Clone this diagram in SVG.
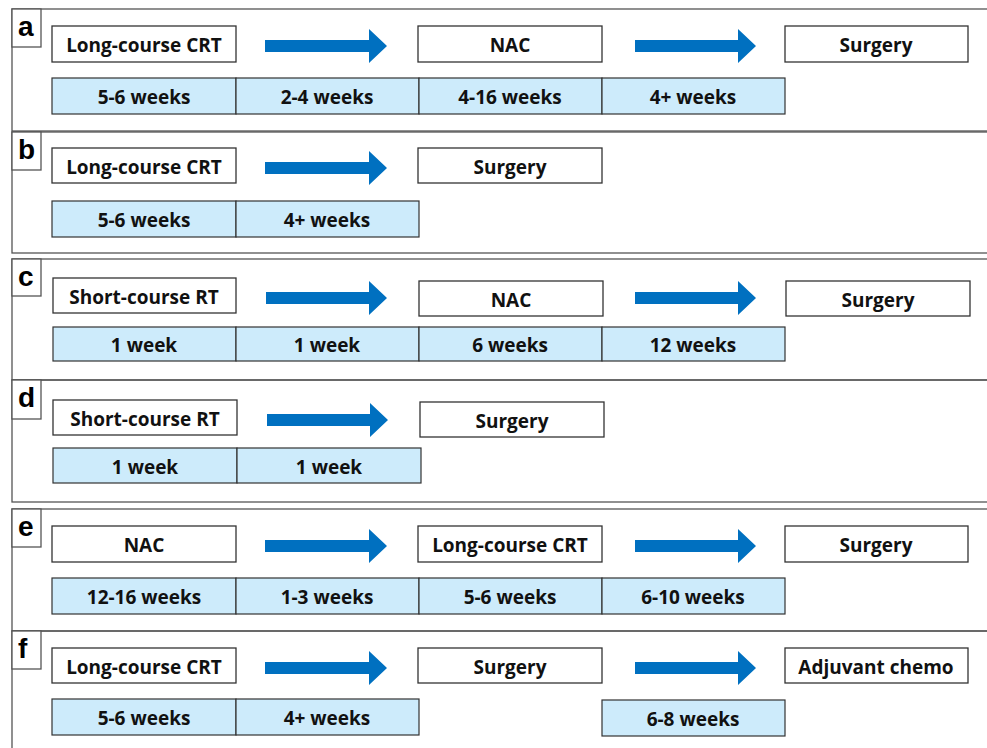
<svg xmlns="http://www.w3.org/2000/svg" width="987" height="748" viewBox="0 0 987 748">
<defs>
<style>
.frame{fill:none;stroke:#555;stroke-width:1.3}
.lab{fill:#fff;stroke:#555;stroke-width:1.3}
.labt{font-family:"Liberation Sans",Arial,sans-serif;font-weight:700;font-size:28px;fill:#000}
.node{fill:#fff;stroke:#333;stroke-width:1.3}
.dur{fill:#CDEBFB;stroke:#333;stroke-width:1.2}
.t{font-family:"Open Sans","Noto Sans",sans-serif;font-weight:700;font-size:19px;fill:#111;text-anchor:middle}
.arr{fill:#0070C0}
</style>
</defs>
<rect width="987" height="748" fill="#fff"/>

<!-- panel frames -->
<g id="frames">
<rect class="frame" x="12" y="9" width="990" height="122"/>
<rect class="frame" x="12" y="132" width="990" height="121"/>
<rect class="frame" x="12" y="259" width="990" height="121"/>
<rect class="frame" x="12" y="380" width="990" height="122"/>
<rect class="frame" x="12" y="509" width="990" height="122"/>
<rect class="frame" x="12" y="631" width="990" height="130"/>
</g>

<!-- panel a -->
<g id="panel-a">
<rect class="lab" x="12" y="9" width="29" height="38"/><text class="labt" x="18" y="36">a</text>
<g id="a-n1"><rect class="node" x="52" y="26" width="184" height="36"/><text class="t" x="144" y="52">Long-course CRT</text></g>
<g id="a-n2"><rect class="node" x="418" y="26" width="184" height="36"/><text class="t" x="510" y="52">NAC</text></g>
<g id="a-n3"><rect class="node" x="785" y="26" width="183" height="36"/><text class="t" x="876" y="52">Surgery</text></g>
<g id="a-d1"><rect class="dur" x="52" y="78" width="184" height="36"/><text class="t" x="144" y="104">5-6 weeks</text></g>
<g id="a-d2"><rect class="dur" x="236" y="78" width="183" height="36"/><text class="t" x="327" y="104">2-4 weeks</text></g>
<g id="a-d3"><rect class="dur" x="419" y="78" width="183" height="36"/><text class="t" x="510" y="104">4-16 weeks</text></g>
<g id="a-d4"><rect class="dur" x="602" y="78" width="183" height="36"/><text class="t" x="693" y="104">4+ weeks</text></g>
</g>

<!-- panel b -->
<g id="panel-b">
<rect class="lab" x="12" y="132" width="29" height="38"/><text class="labt" x="18" y="159">b</text>
<g id="b-n1"><rect class="node" x="52" y="148" width="184" height="35"/><text class="t" x="144" y="174">Long-course CRT</text></g>
<g id="b-n2"><rect class="node" x="418" y="148" width="184" height="35"/><text class="t" x="510" y="174">Surgery</text></g>
<g id="b-d1"><rect class="dur" x="52" y="201" width="184" height="36"/><text class="t" x="144" y="227">5-6 weeks</text></g>
<g id="b-d2"><rect class="dur" x="236" y="201" width="183" height="36"/><text class="t" x="327" y="227">4+ weeks</text></g>
</g>

<!-- panel c -->
<g id="panel-c">
<rect class="lab" x="12" y="259" width="29" height="37"/><text class="labt" x="18" y="286">c</text>
<g id="c-n1"><rect class="node" x="53" y="278" width="183" height="35"/><text class="t" x="144" y="304">Short-course RT</text></g>
<g id="c-n2"><rect class="node" x="419" y="281" width="184" height="35"/><text class="t" x="511" y="307">NAC</text></g>
<g id="c-n3"><rect class="node" x="786" y="281" width="184" height="35"/><text class="t" x="878" y="307">Surgery</text></g>
<g id="c-d1"><rect class="dur" x="53" y="327" width="183" height="34"/><text class="t" x="144" y="352">1 week</text></g>
<g id="c-d2"><rect class="dur" x="236" y="327" width="183" height="34"/><text class="t" x="327" y="352">1 week</text></g>
<g id="c-d3"><rect class="dur" x="419" y="327" width="183" height="34"/><text class="t" x="510" y="352">6 weeks</text></g>
<g id="c-d4"><rect class="dur" x="602" y="327" width="183" height="34"/><text class="t" x="693" y="352">12 weeks</text></g>
</g>

<!-- panel d -->
<g id="panel-d">
<rect class="lab" x="12" y="380" width="29" height="39"/><text class="labt" x="18" y="407">d</text>
<g id="d-n1"><rect class="node" x="53" y="400" width="184" height="35"/><text class="t" x="145" y="426">Short-course RT</text></g>
<g id="d-n2"><rect class="node" x="420" y="402" width="184" height="35"/><text class="t" x="512" y="428">Surgery</text></g>
<g id="d-d1"><rect class="dur" x="53" y="448" width="184" height="35"/><text class="t" x="145" y="474">1 week</text></g>
<g id="d-d2"><rect class="dur" x="237" y="448" width="184" height="35"/><text class="t" x="329" y="474">1 week</text></g>
</g>

<!-- panel e -->
<g id="panel-e">
<rect class="lab" x="12" y="509" width="29" height="38"/><text class="labt" x="18" y="536">e</text>
<g id="e-n1"><rect class="node" x="52" y="526" width="184" height="36"/><text class="t" x="144" y="552">NAC</text></g>
<g id="e-n2"><rect class="node" x="418" y="526" width="184" height="36"/><text class="t" x="510" y="552">Long-course CRT</text></g>
<g id="e-n3"><rect class="node" x="785" y="526" width="183" height="36"/><text class="t" x="876" y="552">Surgery</text></g>
<g id="e-d1"><rect class="dur" x="52" y="578" width="184" height="36"/><text class="t" x="144" y="604">12-16 weeks</text></g>
<g id="e-d2"><rect class="dur" x="236" y="578" width="183" height="36"/><text class="t" x="327" y="604">1-3 weeks</text></g>
<g id="e-d3"><rect class="dur" x="419" y="578" width="183" height="36"/><text class="t" x="510" y="604">5-6 weeks</text></g>
<g id="e-d4"><rect class="dur" x="602" y="578" width="183" height="36"/><text class="t" x="693" y="604">6-10 weeks</text></g>
</g>

<!-- panel f -->
<g id="panel-f">
<rect class="lab" x="12" y="631" width="29" height="38"/><text class="labt" x="18" y="658">f</text>
<g id="f-n1"><rect class="node" x="52" y="648" width="184" height="35"/><text class="t" x="144" y="674">Long-course CRT</text></g>
<g id="f-n2"><rect class="node" x="418" y="648" width="184" height="35"/><text class="t" x="510" y="674">Surgery</text></g>
<g id="f-n3"><rect class="node" x="785" y="648" width="183" height="35"/><text class="t" x="876" y="674">Adjuvant chemo</text></g>
<g id="f-d1"><rect class="dur" x="52" y="699" width="184" height="36"/><text class="t" x="144" y="725">5-6 weeks</text></g>
<g id="f-d2"><rect class="dur" x="236" y="699" width="183" height="36"/><text class="t" x="327" y="725">4+ weeks</text></g>
<g id="f-d3"><rect class="dur" x="602" y="700" width="183" height="36"/><text class="t" x="693" y="726">6-8 weeks</text></g>
</g>

<!-- connectors -->
<g id="connectors">
<path class="arr" d="M265,40 H369 V29 L387,46 L369,63 V52 H265 Z"/>
<path class="arr" d="M635,40 H738 V29 L756,46 L738,63 V52 H635 Z"/>
<path class="arr" d="M265,162 H369 V151 L387,168 L369,185 V174 H265 Z"/>
<path class="arr" d="M266,292 H369 V281 L387,298 L369,315 V304 H266 Z"/>
<path class="arr" d="M635,292 H738 V281 L756,298 L738,315 V304 H635 Z"/>
<path class="arr" d="M267,414 H370 V403 L388,420 L370,437 V426 H267 Z"/>
<path class="arr" d="M265,540 H369 V529 L387,546 L369,563 V552 H265 Z"/>
<path class="arr" d="M635,540 H738 V529 L756,546 L738,563 V552 H635 Z"/>
<path class="arr" d="M265,662 H369 V651 L387,668 L369,685 V674 H265 Z"/>
<path class="arr" d="M635,662 H738 V651 L756,668 L738,685 V674 H635 Z"/>
</g>
</svg>
